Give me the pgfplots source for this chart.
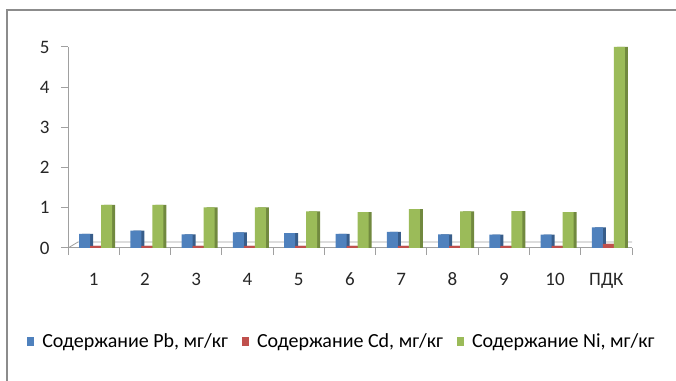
\documentclass[border=0pt]{standalone}
\usepackage{fontspec}
\setmainfont{Carlito}
\usepackage{pgfplots}
\pgfplotsset{compat=1.18}
\definecolor{cblue}{HTML}{4F81BD}
\definecolor{cred}{HTML}{C0504D}
\definecolor{cgreen}{HTML}{9BBB59}
\definecolor{dblue}{HTML}{385D8A}
\definecolor{dred}{HTML}{8C3836}
\definecolor{dgreen}{HTML}{71893F}
\definecolor{axgray}{HTML}{A0A0A0}
\definecolor{framegray}{HTML}{8C8C8C}
\begin{document}
\begin{tikzpicture}
\useasboundingbox (0,0) rectangle (676bp,381bp);
\draw[framegray, line width=2bp] (7bp,0) -- (7bp,371bp) -- (676bp,371bp);
\begin{axis}[
  at={(68bp,133bp)}, anchor=south west,
  scale only axis, width=564bp, height=201bp,
  xmin=-0.5, xmax=10.5, ymin=0, ymax=5,
  axis x line*=bottom, axis y line*=left,
  axis line style={axgray, line width=1bp},
  every outer x axis line/.append style={-}, every outer y axis line/.append style={-},
  x tick label as interval,
  xtick={-0.5,0.5,...,10.5},
  xticklabels={1,2,3,4,5,6,7,8,9,10,ПДК},
  ytick={0,1,2,3,4,5},
  tick align=outside, major tick length=7bp,
  tick style={axgray, line width=1bp},
  /pgf/number format/assume math mode=true,
  ticklabel style={font=\fontsize{19bp}{21bp}\selectfont, text=black!85},
  xticklabel style={anchor=base, yshift=-30bp, text height=13bp, text depth=3bp},
  yticklabel style={xshift=-8bp},
  ybar, bar width=11bp,
  legend columns=3,
  legend style={at={(rel axis cs:0.475,-0.463)}, anchor=center, draw=none,
    font=\fontsize{20bp}{22bp}\selectfont, inner xsep=0pt,
    /tikz/every odd column/.append style={column sep=0bp},
    /tikz/every even column/.append style={column sep=0bp}},
  legend image code/.code={\path (-12bp,0) (13bp,0); \fill[#1] (0bp,-4.5bp) rectangle (7bp,4.5bp);},
]
\draw[axgray, line width=0.8bp] (axis cs:-0.5,0) -- ++(10bp,6bp) -- ++(564bp,0) -- (axis cs:10.5,0);
% Cd (red) - behind
\addplot[fill=dred, draw=none, bar shift=5bp, forget plot] coordinates {(0,0.05) (1,0.05) (2,0.05) (3,0.05) (4,0.05) (5,0.05) (6,0.05) (7,0.05) (8,0.05) (9,0.05) (10,0.1)};
% Pb (blue)
\addplot[fill=dblue, draw=none, bar shift=-6bp, forget plot] coordinates {(0,0.35) (1,0.43) (2,0.34) (3,0.39) (4,0.37) (5,0.35) (6,0.40) (7,0.34) (8,0.33) (9,0.33) (10,0.51)};
\addplot[fill=cblue, draw=none, bar shift=-9bp] coordinates {(0,0.35) (1,0.43) (2,0.34) (3,0.39) (4,0.37) (5,0.35) (6,0.40) (7,0.34) (8,0.33) (9,0.33) (10,0.51)};
\addlegendentry{Содержание Pb, мг/кг}
\addplot[fill=cred, draw=none, bar shift=2bp] coordinates {(0,0.05) (1,0.05) (2,0.05) (3,0.05) (4,0.05) (5,0.05) (6,0.05) (7,0.05) (8,0.05) (9,0.05) (10,0.1)};
\addlegendentry{Содержание Cd, мг/кг}
% Ni (green)
\addplot[fill=dgreen, draw=none, bar shift=16bp, forget plot] coordinates {(0,1.07) (1,1.07) (2,1.01) (3,1.01) (4,0.91) (5,0.89) (6,0.97) (7,0.91) (8,0.92) (9,0.89) (10,5.0)};
\addplot[fill=cgreen, draw=none, bar shift=13bp] coordinates {(0,1.07) (1,1.07) (2,1.01) (3,1.01) (4,0.91) (5,0.89) (6,0.97) (7,0.91) (8,0.92) (9,0.89) (10,5.0)};
\addlegendentry{Содержание Ni, мг/кг}
\end{axis}
\end{tikzpicture}
\end{document}
